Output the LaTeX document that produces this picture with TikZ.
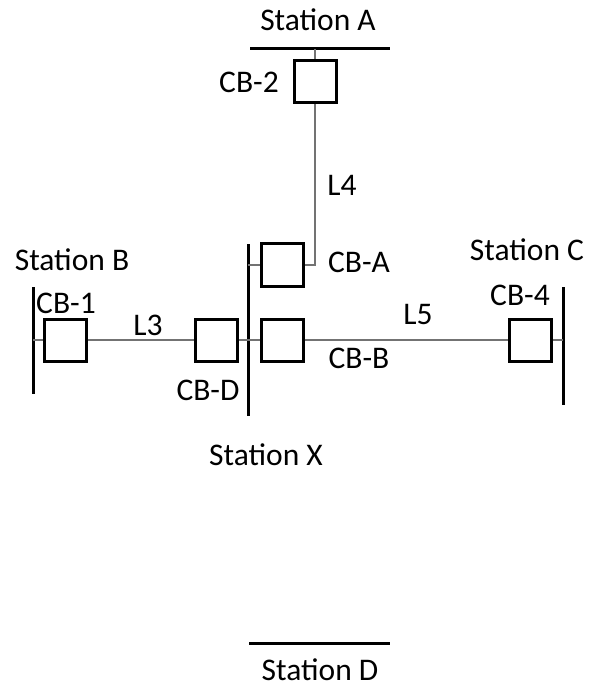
\documentclass[tikz,border=0pt]{standalone}
\usepackage{fontspec}
\setmainfont{Carlito}
\usetikzlibrary{positioning}

\tikzset{
  breaker/.style={draw, line width=1.2pt, minimum size=16.8pt, inner sep=0pt},
  busbar/.style={line width=1.2pt},
  feeder/.style={line width=0.6pt, draw=black!55},
  lbl/.style={inner sep=0pt, font=\fontsize{12.6}{15}\selectfont},
}

\begin{document}
\begin{tikzpicture}[x=0.4pt, y=-0.4pt]
  \useasboundingbox (0,0) rectangle (595,685);

  % bus bars
  \coordinate (busAl) at (250,49);
  \coordinate (busAr) at (390,49);
  \coordinate (busXt) at (248,244);
  \coordinate (busXb) at (248,416);
  \coordinate (busBt) at (33,287);
  \coordinate (busBb) at (33,394);
  \coordinate (busCt) at (563,287);
  \coordinate (busCb) at (563,405);
  \coordinate (busDl) at (249,643);
  \coordinate (busDr) at (390,643);

  \draw [busbar] (busAl) -- (busAr);
  \draw [busbar] (busXt) -- (busXb);
  \draw [busbar] (busBt) -- (busBb);
  \draw [busbar] (busCt) -- (busCb);
  \draw [busbar] (busDl) -- (busDr);

  % breakers
  \node [breaker] (cb2) at (315,81.5) {};
  \node [breaker] (cba) at (282,265) {};
  \node [breaker] (cbb) at (282,340) {};
  \node [breaker] (cbd) at (216.5,340) {};
  \node [breaker] (cb1) at (65.5,340) {};
  \node [breaker] (cb4) at (530.5,340) {};

  % lines
  \draw [feeder] (cb2.north) -- (cb2.north |- busAl);
  \draw [feeder] (cb2.south) |- (cba.east);
  \draw [feeder] (cba.west) -- (cba.west -| busXt);
  \draw [feeder] (cbb.west) -- (cbd.east);
  \draw [feeder] (cb1.west) -- (cb1.west -| busBt);
  \draw [feeder] (cb1.east) -- (cbd.west);
  \draw [feeder] (cbb.east) -- (cb4.west);
  \draw [feeder] (cb4.east) -- (cb4.east -| busCt);

  % labels
  \node [lbl] (stA) at (318,20) {Station A};
  \node [lbl] (stB) at (72,260) {Station B};
  \node [lbl] (stC) at (527,250) {Station C};
  \node [lbl] (stX) at (266,455) {Station X};
  \node [lbl, anchor=base] (stD) at (320,680) {Station D};
  \node [lbl] (lcb2) at (249,82) {CB-2};
  \node [lbl] (lcb1) at (66,303) {CB-1};
  \node [lbl] (lcbd) at (208,390) {CB-D};
  \node [lbl] (lcba) at (359,262) {CB-A};
  \node [lbl] (lcbb) at (359,358) {CB-B};
  \node [lbl] (lcb4) at (520,295) {CB-4};
  \node [lbl] (l3) at (148,325) {L3};
  \node [lbl] (l4) at (342,185) {L4};
  \node [lbl] (l5) at (418,315) {L5};
\end{tikzpicture}
\end{document}
